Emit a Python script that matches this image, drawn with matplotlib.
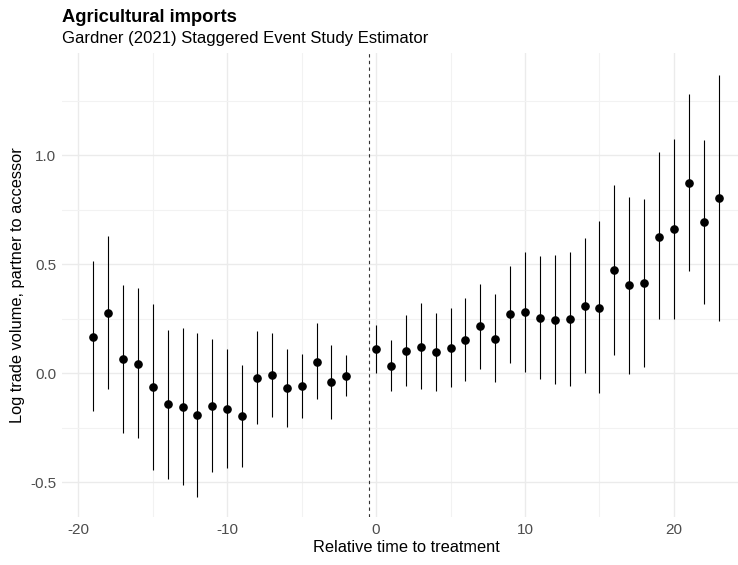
import matplotlib
matplotlib.use("Agg")
import matplotlib.pyplot as plt
from matplotlib.ticker import MultipleLocator, FormatStrFormatter, FuncFormatter

plt.rcParams['font.family'] = ['Liberation Sans', 'DejaVu Sans']

# relative time to treatment, point estimate and confidence interval
rel_time = list(range(-19, -1)) + list(range(0, 24))
estimate = [0.168, 0.275, 0.064, 0.043, -0.064, -0.141, -0.155, -0.193, -0.150,
            -0.164, -0.197, -0.022, -0.009, -0.069, -0.060, 0.052, -0.038, -0.012,
            0.111, 0.035, 0.104, 0.121, 0.099, 0.116, 0.152, 0.216, 0.159, 0.271,
            0.280, 0.254, 0.245, 0.249, 0.309, 0.301, 0.473, 0.404, 0.413, 0.627,
            0.663, 0.874, 0.693, 0.805]
ci_low = [-0.175, -0.074, -0.273, -0.299, -0.444, -0.484, -0.514, -0.569, -0.453,
          -0.436, -0.432, -0.233, -0.199, -0.247, -0.204, -0.118, -0.208, -0.104,
          0.003, -0.080, -0.057, -0.074, -0.080, -0.061, -0.037, 0.020, -0.041, 0.049,
          0.007, -0.028, -0.049, -0.057, 0.003, -0.092, 0.085, -0.002, 0.029, 0.248,
          0.248, 0.471, 0.318, 0.240]
ci_high = [0.517, 0.630, 0.405, 0.390, 0.317, 0.199, 0.208, 0.184, 0.156,
           0.113, 0.037, 0.194, 0.186, 0.113, 0.087, 0.229, 0.130, 0.084,
           0.220, 0.153, 0.268, 0.321, 0.277, 0.298, 0.346, 0.410, 0.364, 0.493,
           0.556, 0.539, 0.543, 0.556, 0.620, 0.698, 0.866, 0.809, 0.802, 1.016,
           1.077, 1.281, 1.073, 1.371]

fig = plt.figure(figsize=(7.38, 5.65), dpi=100)
ax = fig.add_axes([0.084, 0.0844, 0.932, 0.8213])

# ggplot-like minimal theme
for s in ax.spines.values():
    s.set_visible(False)
ax.set_xlim(-21.1, 25.1)
ax.set_ylim(-0.661, 1.469)
ax.xaxis.set_major_locator(MultipleLocator(10))
ax.xaxis.set_minor_locator(MultipleLocator(5))
ax.yaxis.set_major_locator(MultipleLocator(0.5))
ax.yaxis.set_minor_locator(MultipleLocator(0.25))
ax.grid(which='major', color='#EBEBEB', linewidth=1.0)
ax.grid(which='minor', color='#F2F2F2', linewidth=0.8)
ax.set_axisbelow(True)
ax.tick_params(which='both', length=0, labelsize=11, colors='#4D4D4D', pad=4)
ax.yaxis.set_major_formatter(FormatStrFormatter('%.1f'))
ax.xaxis.set_major_formatter(FuncFormatter(lambda v, p: '%d' % v))

ax.axvline(-0.5, color='#333333', linestyle=(0, (3, 3)), linewidth=0.8)

ax.vlines(rel_time, ci_low, ci_high, color='black', linewidth=0.8)
ax.plot(rel_time, estimate, 'o', color='black', markersize=5.2, linestyle='none')

ax.set_xlabel('Relative time to treatment', fontsize=11.8, labelpad=2)
ax.set_ylabel('Log trade volume, partner to accessor', fontsize=11.8, labelpad=4)

fig.text(0.084, 0.969, 'Agricultural imports', fontsize=13.2, fontweight='bold',
         ha='left', va='center')
fig.text(0.084, 0.932, 'Gardner (2021) Staggered Event Study Estimator', fontsize=12,
         ha='left', va='center')

fig.savefig('out.png', dpi=100)
